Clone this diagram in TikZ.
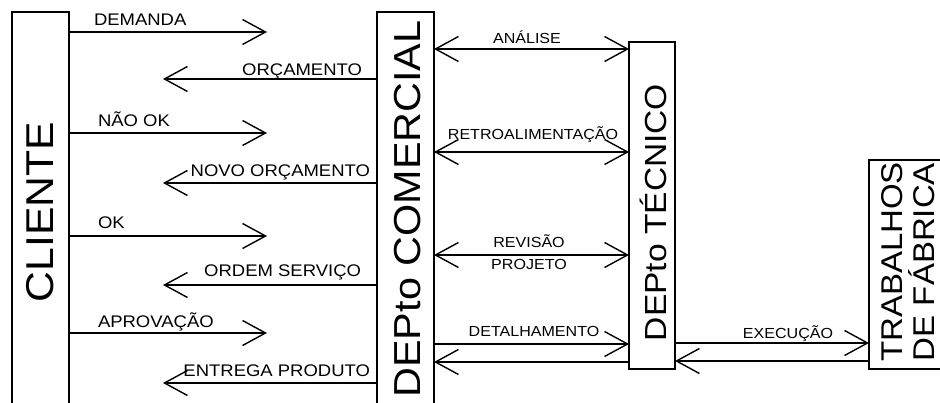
\documentclass[tikz,border=0pt]{standalone}
\usepackage{fontspec}
\newfontfamily\diagfont[FakeStretch=1.1]{Liberation Sans}
\usetikzlibrary{arrows.meta,calc}

\tikzset{
  dept/.style={draw, line width=2.5pt},
  deptname/.style={rotate=90, font=\diagfont\fontsize{#1}{32}\selectfont},
  flow/.style={line width=1.4pt},
  lbl/.style={font=\diagfont\fontsize{16.8}{20}\selectfont},
  midlbl/.style={font=\diagfont\fontsize{14.6}{22}\selectfont},
}

\begin{document}
\begin{tikzpicture}[x=1pt, y=-1pt,
    >={Straight Barb[length=23pt,width=25pt]},
    every node/.style={inner sep=0pt, outer sep=0pt},
]
\path[use as bounding box, clip] (0,0) rectangle (940,403);

% ---- departments (boxes run off the lower edge) ----
\node[dept, minimum width=57pt, minimum height=400pt] (cliente) at (40.5,212) {};
\node[dept, minimum width=57pt, minimum height=394pt] (comercial) at (405.5,209) {};
\node[dept, minimum width=46pt, minimum height=327pt] (tecnico) at (652,205.5) {};
\node[dept, minimum width=101pt, minimum height=209pt] (trabalhos) at (919.5,264.5) {};

\node[deptname=38.8] (clienteTxt) at (cliente.center) {CLIENTE};
\node[deptname=37.6] (comercialTxt) at ($(comercial.center)+(2,0)$) {DEPto COMERCIAL};
\node[deptname=30.5] (tecnicoTxt) at ($(tecnico.center)+(1,7)$) {DEPto TÉCNICO};
\node[deptname=30, align=center] (trabalhosTxt) at ($(trabalhos.center)+(-11.5,-2.5)$)
      {TRABALHOS\\DE FÁBRICA};

% free ends of the client flows
\coordinate (reqTip) at (267,0);
\coordinate (ansTip) at (163,0);

% ---- cliente <-> comercial ----
\draw[flow, ->] (cliente.east |- 0,32) -- (reqTip |- 0,32)
      node[lbl, pos=0, anchor=base west, xshift=25pt, yshift=6pt] {DEMANDA};
\draw[flow, ->] (comercial.west |- 0,79) -- (ansTip |- 0,79)
      node[lbl, pos=0, anchor=base east, xshift=-15pt, yshift=3pt] {ORÇAMENTO};
\draw[flow, ->] (cliente.east |- 0,133) -- (reqTip |- 0,133)
      node[lbl, pos=0, anchor=base west, xshift=29pt, yshift=6pt] {NÃO OK};
\draw[flow, ->] (comercial.west |- 0,183) -- (ansTip |- 0,183)
      node[lbl, pos=0, anchor=base east, xshift=-7pt, yshift=6pt] {NOVO ORÇAMENTO};
\draw[flow, ->] (cliente.east |- 0,236) -- (reqTip |- 0,236)
      node[lbl, pos=0, anchor=base west, xshift=29pt, yshift=7pt] {OK};
\draw[flow, ->] (comercial.west |- 0,285) -- (ansTip |- 0,285)
      node[lbl, pos=0, anchor=base east, xshift=-16pt, yshift=8pt] {ORDEM SERVIÇO};
\draw[flow, ->] (cliente.east |- 0,333) -- (reqTip |- 0,333)
      node[lbl, pos=0, anchor=base west, xshift=29pt, yshift=6pt] {APROVAÇÃO};
\draw[flow, ->] (comercial.west |- 0,383) -- (ansTip |- 0,383)
      node[lbl, pos=0, anchor=base east, xshift=-7pt, yshift=7pt] {ENTREGA PRODUTO};

% ---- comercial <-> tecnico ----
\draw[flow, <->] (comercial.east |- 0,49) -- (tecnico.west |- 0,49)
      node[midlbl, midway, anchor=base, xshift=-4.5pt, yshift=5pt] {ANÁLISE};
\draw[flow, <->] (comercial.east |- 0,152) -- (tecnico.west |- 0,152)
      node[midlbl, midway, anchor=base, xshift=1.5pt, yshift=12pt] {RETROALIMENTAÇÃO};
\draw[flow, <->] (comercial.east |- 0,255) -- (tecnico.west |- 0,255)
      node[midlbl, midway, align=center, xshift=-2.5pt, yshift=3pt] {REVISÃO\\PROJETO};
\draw[flow, ->] (comercial.east |- 0,344) -- (tecnico.west |- 0,344)
      node[midlbl, midway, anchor=base, xshift=2.5pt, yshift=7pt] {DETALHAMENTO};
\draw[flow, ->] (tecnico.west |- 0,362) -- (comercial.east |- 0,362);

% ---- tecnico <-> trabalhos ----
\draw[flow, ->] (tecnico.east |- 0,343) -- (trabalhos.west |- 0,343)
      node[midlbl, midway, anchor=base, xshift=16pt, yshift=5pt] {EXECUÇÃO};
\draw[flow, ->] (trabalhos.west |- 0,361) -- (tecnico.east |- 0,361);

\end{tikzpicture}
\end{document}
